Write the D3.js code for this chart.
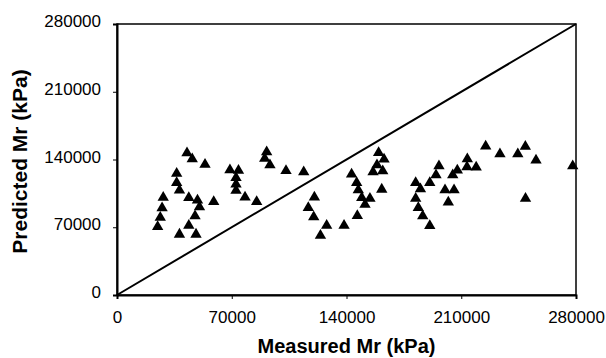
<!DOCTYPE html>
<html>
<head>
<meta charset="utf-8">
<script src="https://cdn.jsdelivr.net/npm/d3@7"></script>
<style>
  body { margin: 0; background: #fff; }
  .tick text { font-family: 'Liberation Sans', Arial, sans-serif; font-size: 17px; fill: #000; }
  .title { font-family: 'Liberation Sans', Arial, sans-serif; font-size: 20px; font-weight: bold; fill: #000; }
</style>
</head>
<body>
<svg id="chart" width="606" height="358"></svg>
<script>
// measured vs predicted resilient modulus (kPa)
var measured = [
  24800, 26400, 27500, 28200, 36400, 36400, 38100, 38100, 42700, 45900,
  43800, 49100, 50300, 47600, 43800, 48200, 53700, 59000, 68900, 74100,
  72600, 72600, 72600, 78100, 85200, 91300, 90100, 93300, 103100, 113900,
  120400, 116700, 120000, 124100, 127900, 138500, 143100, 146200, 147200, 149300,
  154300, 151300, 146600, 159600, 162900, 158600, 156200, 162100, 161500, 182200,
  185100, 182200, 183800, 186500, 190800, 196400, 194600, 190800, 200100, 205600,
  202100, 207600, 204800, 213700, 213500, 219100, 224900, 233600, 244500, 249100,
  255600, 249200, 278000
]
var predicted = [
  71600, 81100, 90900, 101700, 126500, 117000, 109200, 63700, 147700, 141500,
  101500, 98900, 91900, 82600, 72800, 63700, 135800, 97300, 130200, 129600,
  122200, 115400, 109000, 102000, 97400, 148700, 142000, 135300, 129400, 128100,
  102000, 91200, 81600, 62500, 72800, 72800, 125700, 117000, 109500, 101500,
  100700, 94500, 82900, 148000, 141200, 135300, 128100, 129100, 110200, 117000,
  110500, 100700, 91200, 82600, 72600, 134300, 125000, 117000, 109500, 109500,
  96900, 129900, 125000, 141500, 133300, 133000, 154700, 146700, 146700, 154500,
  140200, 100700, 134300
]
var xTicks = [0, 70000, 140000, 210000, 280000]
var yTicks = [0, 70000, 140000, 210000, 280000]

var svg = d3.select('#chart')
var margin = {top: 24, right: 30, bottom: 63, left: 117}
var w = 606 - margin.left - margin.right
var h = 358 - margin.top - margin.bottom

var g = svg.append('g').attr('transform', 'translate(' + margin.left + ',' + margin.top + ')')

var x = d3.scaleLinear().domain([0, 280000]).range([0, w])
var y = d3.scaleLinear().domain([0, 280000]).range([h, 0])

// frame
g.append('rect')
  .attr('width', w)
  .attr('height', h)
  .attr('fill', 'none')
  .attr('stroke', '#000')
  .attr('stroke-width', 1.5)

var xAxis = g.append('g')
  .attr('transform', 'translate(0,' + h + ')')
  .call(d3.axisBottom(x).tickValues(xTicks).tickSize(4).tickPadding(12).tickFormat(d3.format('d')))
xAxis.select('.domain').attr('stroke-width', 2)

var yAxis = g.append('g')
  .call(d3.axisLeft(y).tickValues(yTicks).tickSize(4).tickPadding(12).tickFormat(d3.format('d')))
yAxis.select('.domain').attr('stroke-width', 2)
yAxis.selectAll('.tick text').attr('dy', '0.15em')

// line of equality
g.append('line')
  .attr('x1', x(0)).attr('y1', y(0))
  .attr('x2', x(280000)).attr('y2', y(280000))
  .attr('stroke', '#000')
  .attr('stroke-width', 2)

var tri = d3.symbol().type(d3.symbolTriangle).size(56)
g.selectAll('.pt')
  .data(measured)
  .enter().append('path')
    .attr('class', 'pt')
    .attr('d', tri)
    .attr('transform', function(d, i) { return 'translate(' + x(d) + ',' + (y(predicted[i]) + 1) + ')' })
    .attr('fill', '#000')

svg.append('text')
  .attr('class', 'title')
  .attr('x', margin.left + w / 2)
  .attr('y', 353)
  .attr('text-anchor', 'middle')
  .text('Measured Mr (kPa)')

svg.append('text')
  .attr('class', 'title')
  .attr('transform', 'translate(27,' + (margin.top + h / 2 + 2) + ') rotate(-90)')
  .attr('text-anchor', 'middle')
  .style('font-size', '21px')
  .text('Predicted Mr (kPa)')
</script>
</body>
</html>
